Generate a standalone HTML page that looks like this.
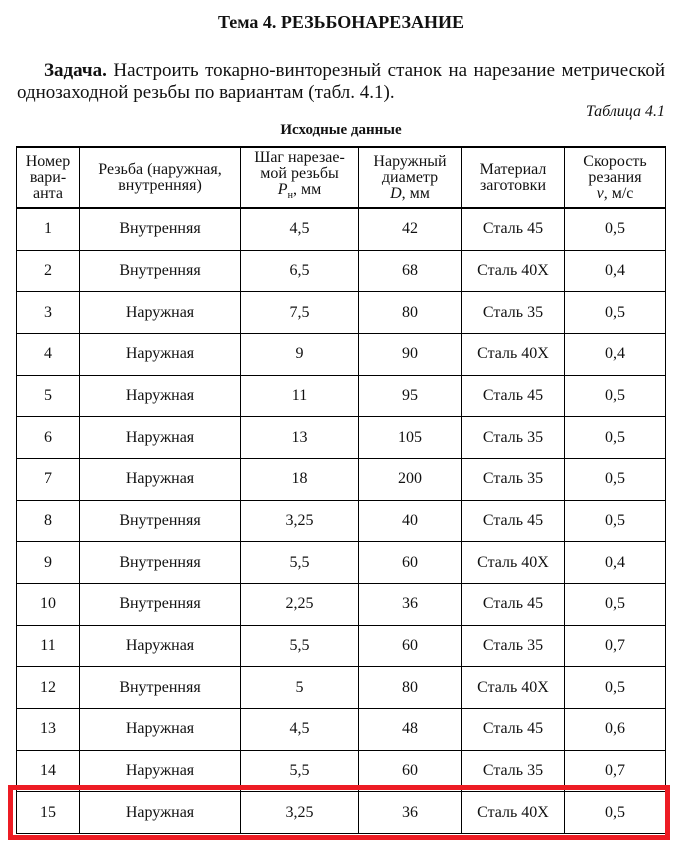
<!DOCTYPE html>
<html><head><meta charset="utf-8"><style>
body{margin:0;width:682px;height:843px;background:#fff;font-family:"Liberation Serif",serif;color:#111;position:relative;overflow:hidden}
.a{position:absolute;white-space:nowrap}
table{position:absolute;left:16px;top:146px;width:650px;border-collapse:collapse;font-size:16px;table-layout:fixed}
td{border:1px solid #000;text-align:center;height:40.67px;padding:0;line-height:16px}
tr:first-child td{height:59px;border-top:2px solid #000;border-bottom:2px solid #000}
#red{position:absolute;left:8px;top:785px;width:652px;height:45px;border:5px solid #ed1c24}
</style></head><body>
<div class="a" style="left:0;width:682px;text-align:center;top:12px;font-weight:bold;font-size:18px">Тема 4. РЕЗЬБОНАРЕЗАНИЕ</div>
<div class="a" style="left:44px;width:621px;top:60px;font-size:19px;text-align:justify;text-align-last:justify;white-space:normal"><b>Задача.</b> Настроить токарно-винторезный станок на нарезание метрической</div>
<div class="a" style="left:17px;top:82px;font-size:19px">однозаходной резьбы по вариантам (табл. 4.1).</div>
<div class="a" style="right:17px;top:103px;font-size:16px;font-style:italic">Таблица 4.1</div>
<div class="a" style="left:0;width:682px;text-align:center;top:122px;font-weight:bold;font-size:15px">Исходные данные</div>
<table>
<colgroup><col style="width:63px"><col style="width:161px"><col style="width:118px"><col style="width:103px"><col style="width:103px"><col></colgroup>
<tr><td>Номер<br>вари-<br>анта</td><td>Резьба (наружная,<br>внутренняя)</td><td>Шаг нарезае-<br>мой резьбы<br><i>P</i><sub style="font-size:10px">н</sub>, мм</td><td>Наружный<br>диаметр<br><i>D</i>, мм</td><td>Материал<br>заготовки</td><td>Скорость<br>резания<br><i>v</i>, м/с</td></tr>
<tr><td>1</td><td>Внутренняя</td><td>4,5</td><td>42</td><td>Сталь 45</td><td>0,5</td></tr>
<tr><td>2</td><td>Внутренняя</td><td>6,5</td><td>68</td><td>Сталь 40Х</td><td>0,4</td></tr>
<tr><td>3</td><td>Наружная</td><td>7,5</td><td>80</td><td>Сталь 35</td><td>0,5</td></tr>
<tr><td>4</td><td>Наружная</td><td>9</td><td>90</td><td>Сталь 40Х</td><td>0,4</td></tr>
<tr><td>5</td><td>Наружная</td><td>11</td><td>95</td><td>Сталь 45</td><td>0,5</td></tr>
<tr><td>6</td><td>Наружная</td><td>13</td><td>105</td><td>Сталь 35</td><td>0,5</td></tr>
<tr><td>7</td><td>Наружная</td><td>18</td><td>200</td><td>Сталь 35</td><td>0,5</td></tr>
<tr><td>8</td><td>Внутренняя</td><td>3,25</td><td>40</td><td>Сталь 45</td><td>0,5</td></tr>
<tr><td>9</td><td>Внутренняя</td><td>5,5</td><td>60</td><td>Сталь 40Х</td><td>0,4</td></tr>
<tr><td>10</td><td>Внутренняя</td><td>2,25</td><td>36</td><td>Сталь 45</td><td>0,5</td></tr>
<tr><td>11</td><td>Наружная</td><td>5,5</td><td>60</td><td>Сталь 35</td><td>0,7</td></tr>
<tr><td>12</td><td>Внутренняя</td><td>5</td><td>80</td><td>Сталь 40Х</td><td>0,5</td></tr>
<tr><td>13</td><td>Наружная</td><td>4,5</td><td>48</td><td>Сталь 45</td><td>0,6</td></tr>
<tr><td>14</td><td>Наружная</td><td>5,5</td><td>60</td><td>Сталь 35</td><td>0,7</td></tr>
<tr><td>15</td><td>Наружная</td><td>3,25</td><td>36</td><td>Сталь 40Х</td><td>0,5</td></tr>
</table>
<div id="red"></div>
</body></html>
